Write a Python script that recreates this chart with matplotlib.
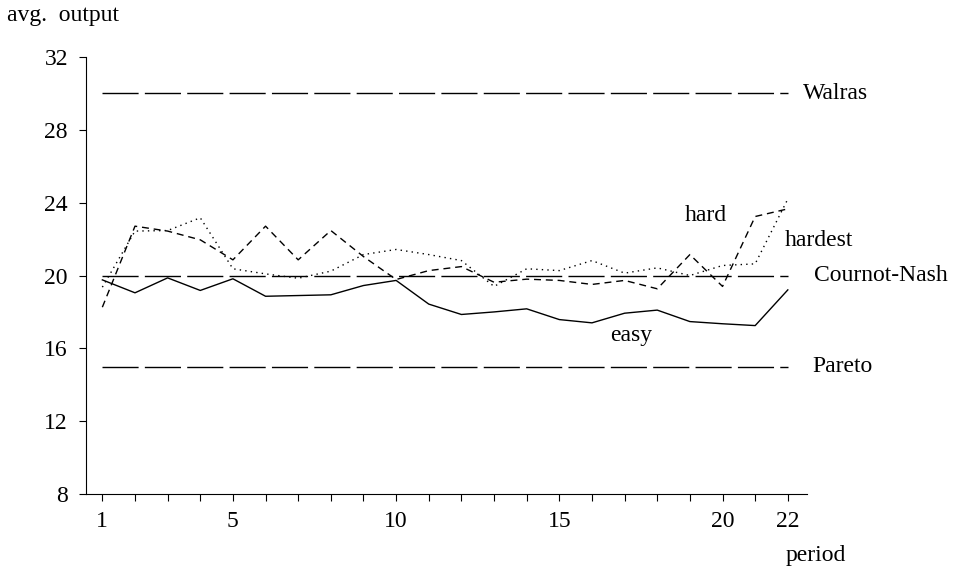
import numpy as np
import matplotlib.pyplot as plt

plt.rcParams['font.family'] = ['Liberation Serif', 'DejaVu Serif']

# Daten
period = np.arange(1, 23)
easy = [19.76, 19.05, 19.87, 19.18, 19.82, 18.86, 18.90, 18.94, 19.45, 19.73, 18.43,
        17.86, 18.00, 18.17, 17.58, 17.40, 17.93, 18.10, 17.47, 17.35, 17.25, 19.21]
hard = [18.26, 22.71, 22.44, 21.96, 20.86, 22.71, 20.86, 22.47, 21.04, 19.78, 20.27,
        20.49, 19.63, 19.80, 19.73, 19.51, 19.73, 19.27, 21.15, 19.40, 23.24, 23.66]
hardest = [19.36, 22.44, 22.47, 23.17, 20.37, 20.09, 19.85, 20.24, 21.15, 21.43, 21.15,
           20.82, 19.40, 20.37, 20.27, 20.82, 20.13, 20.42, 20.00, 20.55, 20.64, 24.20]
ref_names = ['Walras', 'Cournot-Nash', 'Pareto']
ref_values = [30, 20, 15]
yticks = [8, 12, 16, 20, 24, 28, 32]
xticks_lab = [1, 5, 10, 15, 20, 22]

fs = 17
fig = plt.figure(figsize=(9.58, 5.70), dpi=100)
ax = fig.add_axes([0.0898, 0.1333, 0.753, 0.7667])

# Referenzlinien
ref_xtext = [22.45, 22.8, 22.75]
for name, v, xt in zip(ref_names, ref_values, ref_xtext):
    ax.plot([1, 22], [v, v], color='black', lw=1.0, dashes=(26, 4.5))
    ax.text(xt, v, name, va='center', ha='left', fontsize=fs)

ax.plot(period, easy, 'k-', lw=1.0)
ax.plot(period, hard, color='black', lw=1.0, dashes=(5, 3.5))
ax.plot(period, hardest, color='black', lw=1.0, dashes=(1, 3))

ax.text(19.5, 23.3, 'hard', fontsize=fs, ha='center', va='center')
ax.text(22.96, 21.92, 'hardest', fontsize=fs, ha='center', va='center')
ax.text(17.2, 16.7, 'easy', fontsize=fs, ha='center', va='center')

ax.set_xlim(0.5, 22.6)
ax.set_ylim(8, 32)
ax.set_yticks(yticks)
ax.set_xticks(period)
ax.set_xticklabels([str(p) if p in xticks_lab else '' for p in period])
ax.tick_params(labelsize=fs, direction='out', length=5, width=0.8)
ax.tick_params(axis='x', pad=7)
ax.tick_params(axis='y', pad=8)
ax.spines['top'].set_visible(False)
ax.spines['right'].set_visible(False)

fig.text(0.007, 0.973, 'avg.  output', fontsize=fs, ha='left', va='center')
fig.text(0.852, 0.026, 'period', fontsize=fs, ha='center', va='center')

fig.savefig('out.png', dpi=100)
